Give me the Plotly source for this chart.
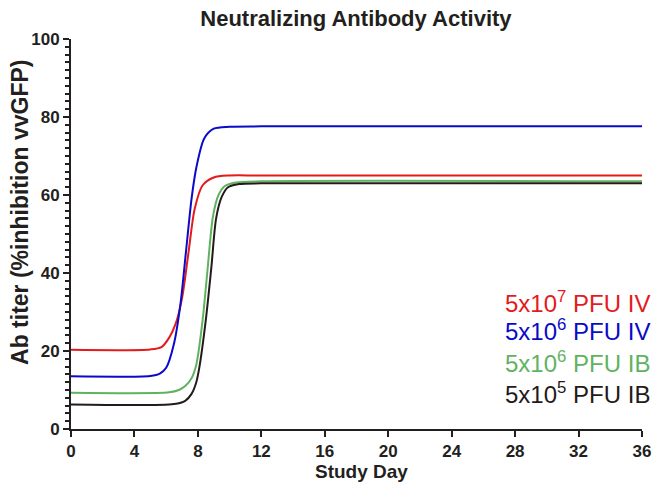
import plotly.graph_objects as go

# Data (Study Day vs Ab titer)
red_days = [0, 5.0, 5.7, 6.2, 6.6, 7.0, 7.4, 7.8, 8.3, 9.0, 10, 12, 36]
red_vals = [20.3, 20.4, 21.0, 23.5, 27.0, 33.5, 45.0, 56.5, 62.5, 64.5, 65.0, 65.0, 65.0]

blue_days = [0, 5.0, 5.6, 6.0, 6.5, 6.9, 7.25, 7.6, 7.9, 8.4, 9.0, 10, 12, 36]
blue_vals = [13.5, 13.6, 14.2, 15.7, 22.0, 32.0, 45.5, 59.0, 67.0, 74.5, 77.0, 77.5, 77.6, 77.6]

green_days = [0, 6.2, 6.8, 7.2, 7.6, 7.9, 8.3, 8.6, 8.95, 9.3, 9.7, 10.4, 12, 36]
green_vals = [9.3, 9.4, 10.0, 11.0, 13.0, 16.5, 28.0, 40.5, 54.5, 60.0, 62.3, 63.2, 63.5, 63.5]

black_days = [0, 6.5, 7.2, 7.6, 7.9, 8.1, 8.5, 8.85, 9.15, 9.5, 9.9, 10.6, 12, 36]
black_vals = [6.3, 6.4, 7.2, 9.0, 12.0, 16.0, 28.0, 41.5, 54.0, 59.5, 62.0, 62.8, 63.0, 63.0]

series_labels = ["5x10<sup>7</sup> PFU IV", "5x10<sup>6</sup> PFU IV",
                 "5x10<sup>6</sup> PFU IB", "5x10<sup>5</sup> PFU IB"]
series_colors = ["#e41a1c", "#0a0ac8", "#5fb35f", "#231a1a"]

x_ticks = [0, 4, 8, 12, 16, 20, 24, 28, 32, 36]
y_ticks = [0, 20, 40, 60, 80, 100]

axis_color = "#231f20"
font_family = "Liberation Sans, Arial, sans-serif"

fig = go.Figure()
all_series = [(red_days, red_vals), (blue_days, blue_vals),
              (green_days, green_vals), (black_days, black_vals)]
for (xs, ys), lab, col in zip(all_series, series_labels, series_colors):
    fig.add_trace(go.Scatter(x=xs, y=ys, mode="lines", name=lab,
                             line=dict(color=col, width=2, shape="spline", smoothing=0.8),
                             showlegend=False))

legend_y = [0.326, 0.254, 0.172, 0.092]
for lab, col, yy in zip(series_labels, series_colors, legend_y):
    fig.add_annotation(text=lab, xref="paper", yref="paper", x=1.0175, y=yy,
                       xanchor="right", yanchor="middle", showarrow=False,
                       font=dict(size=24, color=col, family=font_family))

# axis titles as annotations for exact placement
fig.add_annotation(text="<b>Ab titer (%inhibition vvGFP)</b>", xref="paper", yref="paper",
                   x=-0.0893, y=0.554, xanchor="center", yanchor="middle", textangle=-90,
                   showarrow=False, font=dict(size=23, color=axis_color, family=font_family))
fig.add_annotation(text="<b>Study Day</b>", xref="paper", yref="paper",
                   x=0.508, y=-0.077, xanchor="center", yanchor="top",
                   showarrow=False, font=dict(size=19, color=axis_color, family=font_family))

fig.update_layout(
    width=655, height=483,
    margin=dict(l=71, r=13, t=39, b=54),
    paper_bgcolor="white", plot_bgcolor="white",
    font=dict(family=font_family, color=axis_color),
    title=dict(text="<b>Neutralizing Antibody Activity</b>", xref="paper", x=0.499,
               xanchor="center", y=0.963, yanchor="middle",
               font=dict(size=22, color=axis_color)),
)
fig.update_xaxes(range=[0, 36], tickvals=x_ticks, ticktext=[f"<b>{v}</b>" for v in x_ticks],
                 showgrid=False, zeroline=False, showline=True, linecolor=axis_color, linewidth=2,
                 ticks="outside", ticklen=6, tickwidth=2, tickcolor=axis_color,
                 tickfont=dict(size=17, color=axis_color), automargin=False)
fig.update_yaxes(range=[0, 100], tickvals=y_ticks, ticktext=[f"<b>{v}</b>" for v in y_ticks],
                 showgrid=False, zeroline=False, showline=True, linecolor=axis_color, linewidth=2,
                 ticks="outside", ticklen=6, tickwidth=2, tickcolor=axis_color,
                 tickfont=dict(size=17, color=axis_color), automargin=False,
                 minor=dict(dtick=2, ticks="outside", ticklen=4, tickwidth=1.5, tickcolor=axis_color))

fig.write_html("out.html")
